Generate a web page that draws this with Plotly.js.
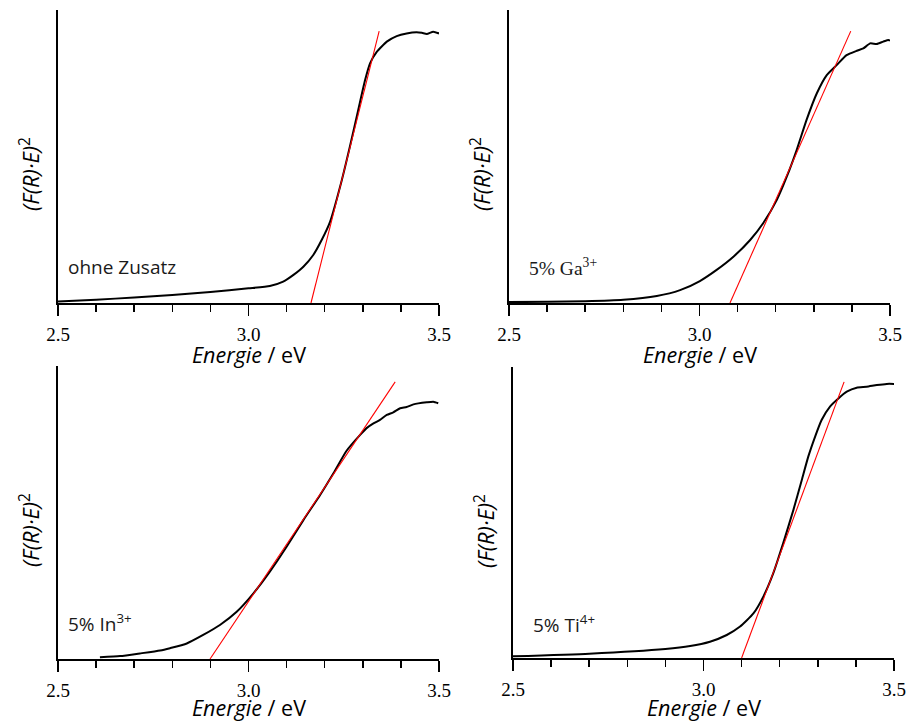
<!DOCTYPE html>
<html>
<head>
<meta charset="utf-8">
<script src="https://cdn.plot.ly/plotly-3.0.1.min.js"></script>
<style>
  html, body { margin: 0; padding: 0; background: #fff; }
  #chart { width: 907px; height: 722px; }
</style>
</head>
<body>
<div id="chart"></div>
<script>
// Tauc plots (F(R)·E)^2 vs photon energy for four samples
const sampleLabels = ["ohne Zusatz", "5% Ga<sup>3+</sup>", "5% In<sup>3+</sup>", "5% Ti<sup>4+</sup>"];

const energyPure = [2.5, 2.6, 2.7, 2.8, 2.9, 3.0, 3.056, 3.091, 3.118, 3.144, 3.17, 3.192, 3.214, 3.245, 3.266, 3.288, 3.306, 3.319, 3.337, 3.363, 3.389, 3.415, 3.441, 3.455, 3.468, 3.485, 3.5];
const signalPure = [0.005, 0.011, 0.019, 0.027, 0.0375, 0.05, 0.058, 0.073, 0.096, 0.124, 0.164, 0.215, 0.277, 0.42, 0.533, 0.659, 0.761, 0.818, 0.858, 0.892, 0.911, 0.920, 0.924, 0.922, 0.918, 0.926, 0.920];

const energyGa = [2.5, 2.6, 2.7, 2.8, 2.888, 2.949, 3.001, 3.045, 3.089, 3.133, 3.167, 3.203, 3.229, 3.255, 3.281, 3.308, 3.334, 3.36, 3.386, 3.413, 3.43, 3.448, 3.465, 3.482, 3.496, 3.5];
const signalGa = [0.003, 0.004, 0.006, 0.011, 0.024, 0.044, 0.075, 0.113, 0.158, 0.215, 0.272, 0.352, 0.431, 0.522, 0.625, 0.716, 0.778, 0.812, 0.846, 0.861, 0.869, 0.886, 0.884, 0.892, 0.898, 0.895];

const energyIn = [2.61, 2.663, 2.715, 2.768, 2.794, 2.838, 2.881, 2.925, 2.969, 3.013, 3.056, 3.1, 3.144, 3.188, 3.223, 3.257, 3.293, 3.31, 3.328, 3.345, 3.363, 3.38, 3.398, 3.415, 3.433, 3.468, 3.485, 3.498];
const signalIn = [0.006, 0.010, 0.019, 0.029, 0.037, 0.053, 0.082, 0.116, 0.161, 0.224, 0.298, 0.383, 0.474, 0.560, 0.634, 0.710, 0.765, 0.788, 0.804, 0.816, 0.833, 0.842, 0.856, 0.860, 0.869, 0.876, 0.878, 0.873];

const energyTi = [2.5, 2.7, 2.9, 2.965, 3.017, 3.061, 3.096, 3.131, 3.157, 3.183, 3.209, 3.236, 3.258, 3.275, 3.293, 3.31, 3.332, 3.354, 3.376, 3.402, 3.428, 3.455, 3.481, 3.5];
const signalTi = [0.006, 0.015, 0.031, 0.041, 0.056, 0.079, 0.108, 0.153, 0.211, 0.291, 0.394, 0.509, 0.612, 0.692, 0.761, 0.818, 0.864, 0.892, 0.915, 0.929, 0.932, 0.938, 0.942, 0.942];

// Linear band-edge fits: [start energy, end energy], [start value, end value]
const fitPureE = [3.164, 3.343], fitPureY = [0, 0.928];
const fitGaE = [3.080, 3.397], fitGaY = [0, 0.928];
const fitInE = [2.899, 3.385], fitInY = [0, 0.946];
const fitTiE = [3.10, 3.369], fitTiY = [0, 0.949];

const tickValues = [2.5, 3.0, 3.5];
const tickText = ["2.5", "3.0", "3.5"];

const W = 907, H = 722;
// panel boxes in pixels: [left, right, top, bottom]
const boxes = [
  [58, 439, 10, 303],
  [509, 890, 10, 303],
  [58, 439, 366, 659],
  [513, 894, 367, 658]
];

const curves = [
  [energyPure, signalPure, fitPureE, fitPureY],
  [energyGa, signalGa, fitGaE, fitGaY],
  [energyIn, signalIn, fitInE, fitInY],
  [energyTi, signalTi, fitTiE, fitTiY]
];

const sans = "Open Sans, sans-serif";
const serif = "Liberation Serif, serif";
// serif tick labels
const styledTicks = tickText.map(t => `<span style="font-family:Liberation Serif,serif;font-size:19px">${t}</span>`);

const traces = [];
const layout = {
  width: W, height: H,
  margin: {l: 0, r: 0, t: 0, b: 0},
  paper_bgcolor: "#fff", plot_bgcolor: "#fff",
  font: {family: serif, size: 19, color: "#000"},
  showlegend: false,
  annotations: []
};

curves.forEach((c, i) => {
  const n = i + 1;
  const xa = "x" + (n === 1 ? "" : n), ya = "y" + (n === 1 ? "" : n);
  traces.push({
    x: c[0], y: c[1], xaxis: xa, yaxis: ya, mode: "lines",
    line: {color: "#000", width: 2, shape: "spline", smoothing: 0.5},
    hoverinfo: "skip"
  });
  traces.push({
    x: c[2], y: c[3], xaxis: xa, yaxis: ya, mode: "lines",
    line: {color: "#ff0000", width: 1.1},
    hoverinfo: "skip"
  });
  const b = boxes[i];
  const xKey = "xaxis" + (n === 1 ? "" : n), yKey = "yaxis" + (n === 1 ? "" : n);
  layout[xKey] = {
    domain: [b[0] / W, b[1] / W],
    anchor: ya, range: [2.5, 3.5],
    showline: true, linecolor: "#000", linewidth: 2,
    showgrid: false, zeroline: false,
    tickmode: "array", tickvals: tickValues, ticktext: styledTicks,
    ticks: "outside", ticklen: 11, tickwidth: 1.5, tickcolor: "#000",
    minor: {dtick: 0.1, tick0: 2.5, ticks: "outside", ticklen: 7, tickwidth: 1.5, tickcolor: "#000", showgrid: false},
    tickfont: {family: serif, size: 19, color: "#000"},
    ticklabelstandoff: 2,
    fixedrange: true
  };
  layout[yKey] = {
    domain: [1 - b[3] / H, 1 - b[2] / H],
    anchor: xa, range: [0, 1],
    showline: true, linecolor: "#000", linewidth: 2,
    showgrid: false, zeroline: false, showticklabels: false, ticks: "",
    fixedrange: true
  };
  // x-axis title, kept inside the page at the bottom row
  const titleY = Math.min(b[3] + 51, H - 15);
  layout.annotations.push({
    xref: "paper", yref: "paper",
    x: (b[0] + b[1]) / 2 / W, y: 1 - titleY / H,
    text: "<i>Energie</i> / eV", showarrow: false,
    font: {family: sans, size: 21.5, color: "#000"},
    xanchor: "center", yanchor: "middle"
  });
  // y-axis title
  layout.annotations.push({
    xref: "paper", yref: "paper",
    x: (b[0] - 29) / W, y: 1 - (b[2] + 164) / H,
    text: "<i>(F(R)·E)</i><sup>2</sup>", textangle: -90, showarrow: false,
    font: {family: sans, size: 22, color: "#000"},
    xanchor: "center", yanchor: "middle"
  });
  // sample label
  layout.annotations.push({
    xref: "paper", yref: "paper",
    x: (b[0] + (i === 3 ? 18 : (i === 1 ? 18 : 8))) / W, y: 1 - (b[2] + 257) / H,
    text: sampleLabels[i], showarrow: false,
    font: {family: i === 1 ? serif : sans, size: i === 1 ? 19.5 : 19, color: "#1a1a1a"},
    xanchor: "left", yanchor: "middle"
  });
});

Plotly.newPlot("chart", traces, layout, {staticPlot: true, displayModeBar: false});
</script>
</body>
</html>
